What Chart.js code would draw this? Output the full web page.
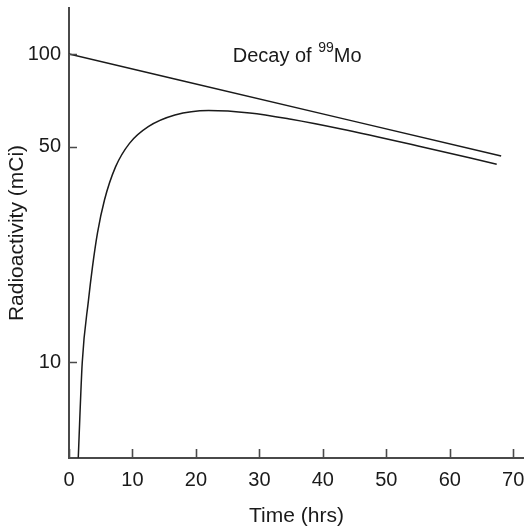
<!DOCTYPE html>
<html>
<head>
<meta charset="utf-8">
<script src="https://cdn.jsdelivr.net/npm/chart.js@4/dist/chart.umd.min.js"></script>
<style>
  html, body { margin: 0; padding: 0; background: #fff; }
  #wrap { width: 524px; height: 528px; }
</style>
</head>
<body>
<div id="wrap"><canvas id="decayChart" width="524" height="528"></canvas></div>
<script>
// Mo-99 parent activity (straight line on the log axis)
const moTime = [0, 17, 44.3, 68.1];
const moActivity = [100, 82.6, 60.9, 46.7];

// Tc-99m daughter activity (ingrowth curve)
const tcTime = [1.46, 2.09, 3.07, 3.7, 4.49, 5.59, 7.35, 9.53, 12.49, 16.69, 22, 28.5, 35, 42.7, 55, 67.4];
const tcActivity = [4.9, 10, 15.9, 20.4, 26.3, 33.6, 43.1, 51.3, 58.1, 63.4, 65.6, 64.4, 61.4, 57.2, 50.3, 43.9];

const xTicks = [0, 10, 20, 30, 40, 50, 60, 70];
const yTicks = [10, 50, 100];

const FONT = '"Liberation Sans", Arial, Helvetica, sans-serif';
const AXIS_COLOR = '#4a4a4a';
const LINE_COLOR = '#1a1a1a';

// petits traits de graduation tournés vers l'intérieur
const innerTicks = {
    id: 'innerTicks',
    afterDraw(chart) {
        const ctx = chart.ctx;
        const x = chart.scales.x, y = chart.scales.y;
        ctx.save();
        ctx.strokeStyle = AXIS_COLOR;
        ctx.lineWidth = 1.6;
        ctx.beginPath();
        xTicks.forEach(v => {
            const px = Math.round(x.getPixelForValue(v)) + 0.5;
            ctx.moveTo(px, y.bottom);
            ctx.lineTo(px, y.bottom - 9);
        });
        yTicks.forEach(v => {
            const py = Math.round(y.getPixelForValue(v)) + 0.5;
            ctx.moveTo(x.left, py);
            ctx.lineTo(x.left + 8, py);
        });
        ctx.stroke();
        ctx.restore();
    }
};

// "Decay of 99Mo" avec exposant
const decayLabel = {
    id: 'decayLabel',
    afterDraw(chart) {
        const ctx = chart.ctx;
        const px = chart.scales.x.getPixelForValue(25.8);
        const py = chart.scales.y.getPixelForValue(94.4);
        ctx.save();
        ctx.fillStyle = '#1a1a1a';
        ctx.textBaseline = 'alphabetic';
        ctx.textAlign = 'left';
        ctx.font = '20px ' + FONT;
        const part1 = 'Decay of ';
        ctx.fillText(part1, px, py);
        let cx = px + ctx.measureText(part1).width + 1;
        ctx.font = '14px ' + FONT;
        ctx.fillText('99', cx, py - 10);
        cx += ctx.measureText('99').width;
        ctx.font = '20px ' + FONT;
        ctx.fillText('Mo', cx, py);
        ctx.restore();
    }
};

const ctx = document.getElementById('decayChart').getContext('2d');

new Chart(ctx, {
    type: 'line',
    data: {
        datasets: [
            {
                label: 'Mo-99',
                data: moTime.map((t, i) => ({ x: t, y: moActivity[i] })),
                borderColor: LINE_COLOR,
                borderWidth: 1.5,
                pointRadius: 0,
                tension: 0,
                fill: false
            },
            {
                label: 'Tc-99m',
                data: tcTime.map((t, i) => ({ x: t, y: tcActivity[i] })),
                borderColor: LINE_COLOR,
                borderWidth: 1.5,
                pointRadius: 0,
                cubicInterpolationMode: 'monotone',
                fill: false
            }
        ]
    },
    options: {
        responsive: false,
        animation: false,
        layout: {
            padding: { top: 8, right: 0, bottom: 0, left: 0 }
        },
        plugins: {
            legend: { display: false },
            tooltip: { enabled: false }
        },
        scales: {
            x: {
                type: 'linear',
                min: 0,
                max: 71.7,
                grid: { display: false, drawTicks: false },
                border: { display: true, color: AXIS_COLOR, width: 2 },
                afterBuildTicks: (scale) => {
                    scale.ticks = xTicks.map(v => ({ value: v }));
                },
                afterFit: (scale) => {
                    scale.height = 70;
                    scale.paddingLeft = 0;
                    scale.paddingRight = 0;
                },
                ticks: {
                    padding: 10,
                    color: '#1a1a1a',
                    maxRotation: 0,
                    font: { family: FONT, size: 20 },
                    callback: (v) => String(v)
                },
                title: {
                    display: true,
                    text: 'Time (hrs)',
                    color: '#1a1a1a',
                    font: { family: FONT, size: 21, lineHeight: 1 },
                    padding: { top: 0, bottom: 1 }
                }
            },
            y: {
                type: 'logarithmic',
                min: 4.89,
                max: 141,
                grid: { display: false, drawTicks: false },
                border: { display: true, color: AXIS_COLOR, width: 2 },
                afterBuildTicks: (scale) => {
                    scale.ticks = yTicks.map(v => ({ value: v }));
                },
                afterFit: (scale) => {
                    scale.width = 69;
                    scale.paddingTop = 0;
                    scale.paddingBottom = 0;
                },
                ticks: {
                    padding: 8,
                    color: '#1a1a1a',
                    font: { family: FONT, size: 20 },
                    callback: (v) => String(v)
                },
                title: {
                    display: true,
                    text: 'Radioactivity (mCi)',
                    color: '#1a1a1a',
                    font: { family: FONT, size: 21, lineHeight: 1 },
                    padding: { top: 6.5, bottom: 0 }
                }
            }
        }
    },
    plugins: [innerTicks, decayLabel]
});
</script>
</body>
</html>
